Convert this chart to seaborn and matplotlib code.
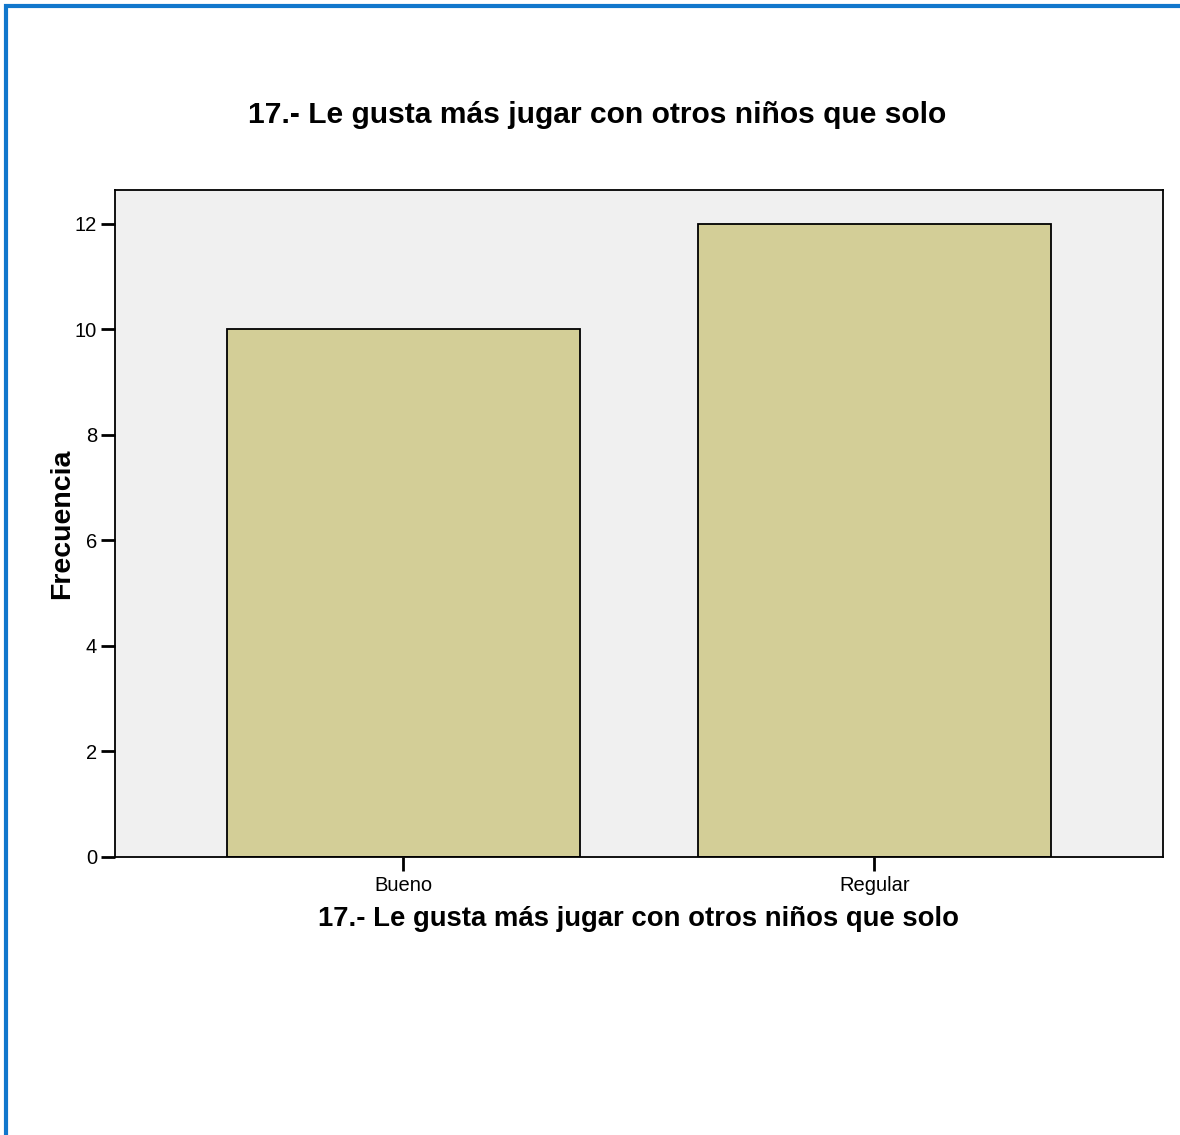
import matplotlib
matplotlib.use("Agg")
import matplotlib.pyplot as plt
import seaborn as sns
import pandas as pd
from matplotlib.patches import Rectangle

categories = ["Bueno", "Regular"]
frecuencias = [10, 12]
yticks = [0, 2, 4, 6, 8, 10, 12]
title = "17.- Le gusta más jugar con otros niños que solo"

sns.set_style("white")
plt.rcParams['font.family'] = ['Liberation Sans', 'DejaVu Sans']
plt.rcParams['text.color'] = 'black'
plt.rcParams['axes.labelcolor'] = 'black'
plt.rcParams['xtick.color'] = 'black'
plt.rcParams['ytick.color'] = 'black'

df = pd.DataFrame({"cat": categories, "freq": frecuencias})

fig = plt.figure(figsize=(11.8, 11.35), dpi=100)
ax = fig.add_axes([115/1180, 278/1135, 1048/1180, 667/1135])
sns.barplot(data=df, x="cat", y="freq", ax=ax, color="#D3CE97", saturation=1,
            width=0.75, edgecolor="black", linewidth=1.3)
ax.set_facecolor("#F0F0F0")
ax.set_xlim(-0.612, 1.613)
ax.set_ylim(0, 12.64)
ax.set_yticks(yticks)
ax.set_yticklabels([str(t) for t in yticks])
for s in ax.spines.values():
    s.set_visible(True)
    s.set_color("black")
    s.set_linewidth(1.3)
ax.tick_params(axis="both", direction="out", length=10, width=2, color="black",
               labelsize=14.5, labelcolor="black", left=True, bottom=True)
ax.tick_params(axis="y", pad=3)
ax.tick_params(axis="x", pad=3.5)
ax.set_xlabel(title, fontsize=19.8, fontweight="bold", labelpad=8, color="black")
ax.set_ylabel("Frecuencia", fontsize=20.5, fontweight="bold", labelpad=0, color="black")
fig.text(597/1180, 1 - 115/1135, title, fontsize=21.6, fontweight="bold",
         ha="center", va="center", color="black")

# blue frame (left and top edges visible)
fig.patches.append(Rectangle((5.5/1180, -0.1), 1.2, 1 - 6/1135 + 0.1,
                             transform=fig.transFigure, fill=False,
                             edgecolor="#1177CC", linewidth=3))

fig.savefig("out.png", dpi=100, facecolor="white")
